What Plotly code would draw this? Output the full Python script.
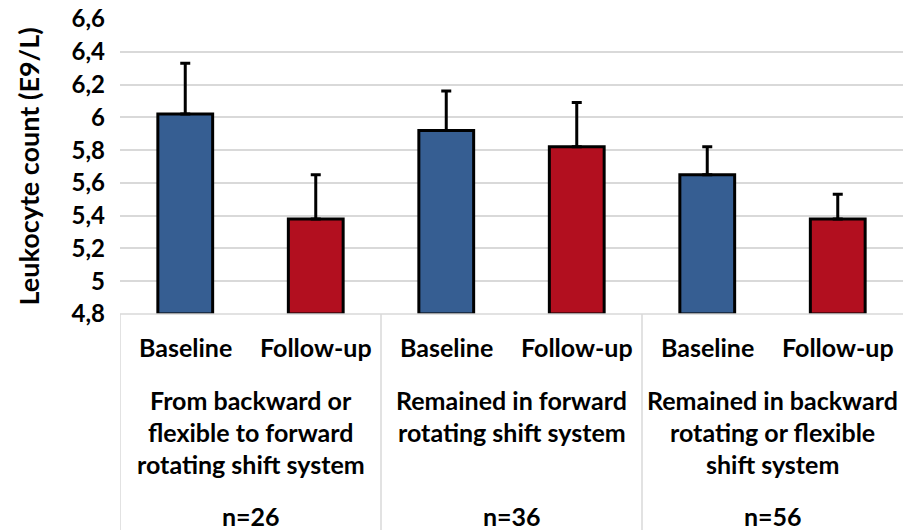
import plotly.graph_objects as go

# Leukocyte counts by shift-system group, baseline vs follow-up
groups = [
    ["From backward or", "flexible to forward", "rotating shift system"],
    ["Remained in forward", "rotating shift system"],
    ["Remained in backward", "rotating or flexible", "shift system"],
]
group_n = ["n=26", "n=36", "n=56"]
timepoints = ["Baseline", "Follow-up"]

baseline = [6.02, 5.92, 5.65]
baseline_err = [0.31, 0.24, 0.17]
followup = [5.38, 5.82, 5.38]
followup_err = [0.27, 0.27, 0.15]

y_ticks = [4.8, 5.0, 5.2, 5.4, 5.6, 5.8, 6.0, 6.2, 6.4, 6.6]
y_ticktext = ["4,8", "5", "5,2", "5,4", "5,6", "5,8", "6", "6,2", "6,4", "6,6"]

FONT = "Lato"
BLUE = "#365E92"
RED = "#B20F1F"

# numeric slots: baseline at 0,2,4 ; follow-up at 1,3,5
xb = [2 * i for i in range(len(baseline))]
xf = [2 * i + 1 for i in range(len(followup))]

fig = go.Figure()
fig.add_trace(go.Bar(
    x=xb, y=[v - 4.8 for v in baseline], base=4.8, width=0.42,
    marker=dict(color=BLUE, line=dict(color="black", width=3)),
    error_y=dict(type="data", array=baseline_err, arrayminus=[0] * 3,
                 color="black", thickness=3, width=5),
    showlegend=False,
))
fig.add_trace(go.Bar(
    x=xf, y=[v - 4.8 for v in followup], base=4.8, width=0.42,
    marker=dict(color=RED, line=dict(color="black", width=3)),
    error_y=dict(type="data", array=followup_err, arrayminus=[0] * 3,
                 color="black", thickness=3, width=5),
    showlegend=False,
))

annotations = []
lab_font = dict(family=FONT, size=25, color="black", weight="bold")
for i in range(len(groups)):
    for j, tp in enumerate(timepoints):
        annotations.append(dict(x=2 * i + j, y=0, xref="x", yref="paper",
                                text=tp, showarrow=False, yanchor="middle",
                                yshift=-33, font=lab_font))
    for k, line in enumerate(groups[i]):
        annotations.append(dict(x=2 * i + 0.5, y=0, xref="x", yref="paper",
                                text=line, showarrow=False, yanchor="middle",
                                yshift=-86 - 32 * k, font=lab_font))
    annotations.append(dict(x=2 * i + 0.5, y=0, xref="x", yref="paper",
                            text=group_n[i], showarrow=False, yanchor="middle",
                            yshift=-202, font=lab_font))

shapes = []
# baseline of the category axis
shapes.append(dict(type="line", xref="paper", yref="paper", x0=0, x1=1,
                   y0=0, y1=0, line=dict(color="#d9d9d9", width=1.5)))
# group separators below the axis
for xs in [-0.5, 1.5, 3.5]:
    shapes.append(dict(type="line", xref="x", yref="paper", x0=xs, x1=xs,
                       y0=0, y1=-0.75, line=dict(color="#d9d9d9", width=1.5)))

fig.update_layout(
    width=903, height=530,
    margin=dict(l=120, r=0, t=19, b=216),
    plot_bgcolor="white", paper_bgcolor="white",
    barmode="overlay",
    annotations=annotations,
    shapes=shapes,
    xaxis=dict(range=[-0.5, 5.5], showticklabels=False, showgrid=False,
               zeroline=False, showline=False),
    yaxis=dict(range=[4.8, 6.6], tickvals=y_ticks, ticktext=y_ticktext,
               showgrid=True, gridcolor="#d9d9d9", gridwidth=1.5,
               zeroline=False, showline=False, ticks="", ticklen=0,
               ticklabelstandoff=14,
               tickfont=dict(family=FONT, size=24, color="black", weight="bold"),
               title=dict(text="Leukocyte count (E9/L)", standoff=24,
                          font=dict(family=FONT, size=27, color="black", weight="bold"))),
)

fig.write_html("out.html")
